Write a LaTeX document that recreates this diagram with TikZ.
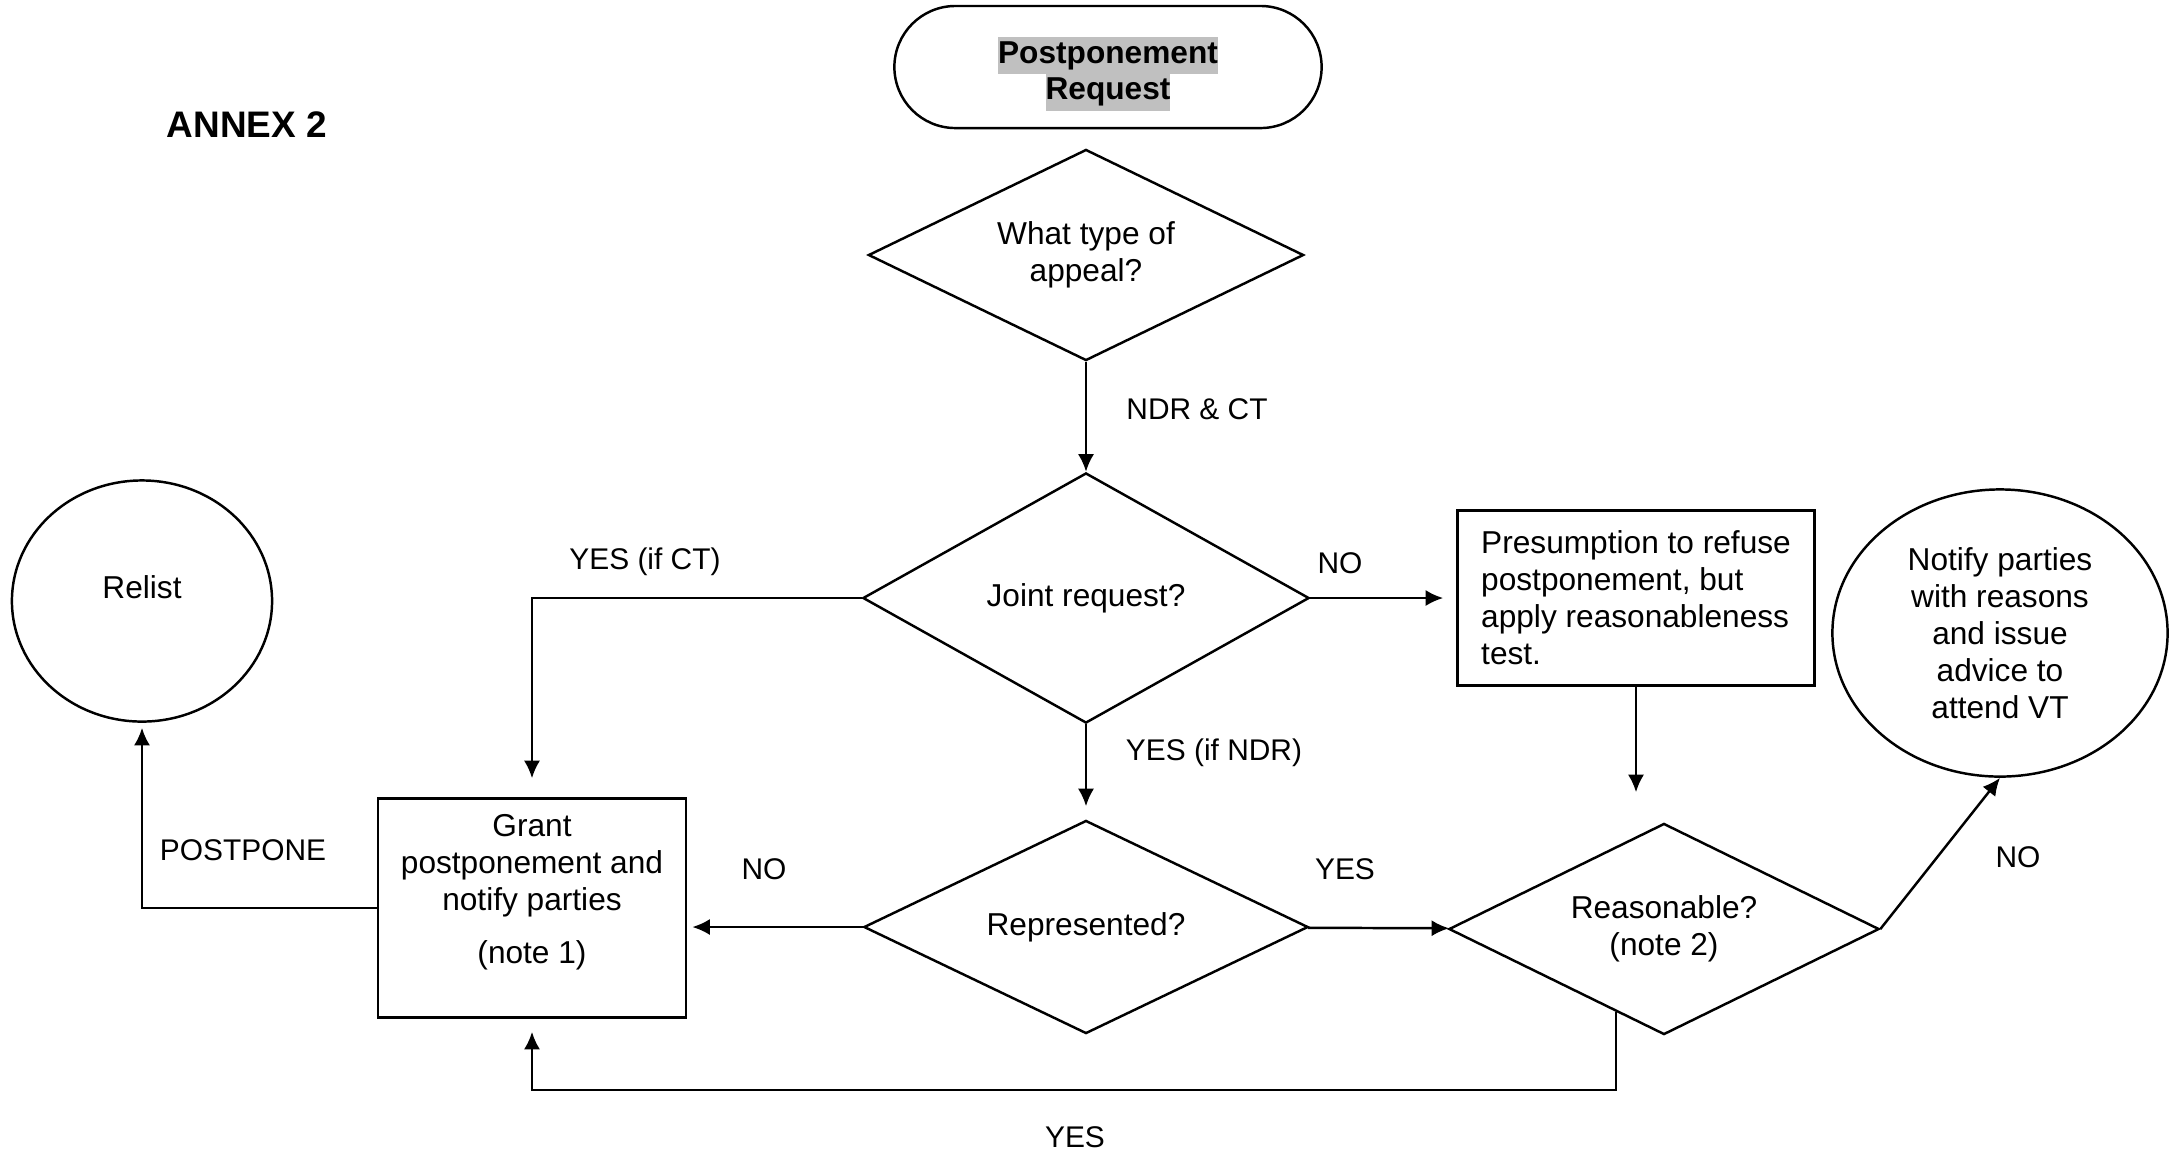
\documentclass[tikz,border=0pt]{standalone}
\usepackage{fontspec}
\setmainfont{Liberation Sans}
\usetikzlibrary{arrows.meta,shapes.geometric}
\definecolor{hl}{HTML}{C0C0C0}
\newcommand{\hilite}[1]{{\setlength{\fboxsep}{0pt}\colorbox{hl}{\strut #1}}}

\begin{document}
\begin{tikzpicture}[x=0.01cm, y=-0.01cm, >={Latex[length=5pt,width=4.6pt]}, line width=0.7pt,
  font=\fontsize{9}{10.5}\selectfont,
  dec/.style={draw, diamond, inner sep=0pt, align=center, minimum width=4.4cm, minimum height=2.12cm},
  box/.style={draw, rectangle, align=center},
  oval/.style={draw, ellipse, inner sep=0pt, align=center},
  lbl/.style={font=\fontsize{8.5}{10}\selectfont}]
\useasboundingbox (0,0) rectangle (2172,1153);
\node[font=\fontsize{10.5}{12}\selectfont\bfseries] (annex) at (247,125) {ANNEX 2};
\node[draw, rounded corners=0.61cm, minimum width=4.27cm, minimum height=1.22cm, align=center,
  font=\fontsize{9}{10.5}\selectfont\bfseries] (req) at (1108,67)
  {\rule{0pt}{0.4cm}\hilite{Postponement}\\\hilite{Request}};
\node[dec, aspect=2.06, minimum width=4.35cm, minimum height=2.11cm] (d1) at (1086,255) {What type of\\appeal?};
\node[dec, aspect=1.78, minimum width=4.46cm, minimum height=2.5cm] (d2) at (1086,598) {Joint request?};
\node[dec, aspect=2.08, minimum width=4.44cm, minimum height=2.13cm] (d3) at (1086,927) {Represented?};
\node[dec, aspect=2.04, minimum width=4.3cm, minimum height=2.11cm] (d4) at (1664,929) {Reasonable?\\(note 2)};
\node[box, minimum width=3.08cm, minimum height=2.19cm] (grant) at (532,908)
  {Grant\\postponement and\\notify parties\\[4.5pt](note 1)\rule[-0.38cm]{0pt}{0.38cm}};
\node[box, align=left, minimum width=3.57cm, minimum height=1.75cm] (pres) at (1636,598)
  {Presumption to refuse\\postponement, but\\apply reasonableness\\test.};
\node[oval, minimum width=2.6cm, minimum height=2.41cm] (relist) at (142,601)
  {Relist\rule[-0.28cm]{0pt}{0.28cm}};
\node[oval, minimum width=3.35cm, minimum height=2.87cm] (notify) at (2000,633)
  {Notify parties\\with reasons\\and issue\\advice to\\attend VT};
\draw[->] (d1) -- (d2);
\draw[->, shorten >=1.9mm] (d2.west) -| (grant.north);
\draw[->, shorten >=1.3mm] (d2.east) -- (pres.west |- d2.east);
\draw[->, shorten >=1.3mm] (d2) -- (d3);
\draw[->, shorten >=0.5mm] (d3.west) -- (grant.east |- d3.west);
\draw[->] (d3) -- (d4);
\draw[->, shorten >=3mm] (pres.south) -- (pres.south |- d4.north);
\draw[->] (d4.east) -- (notify.south);
\draw[->, shorten >=1.3mm] (d4.-120) -- ++(0,78) -| (grant.south);
\draw[->, shorten >=0.5mm] (grant.west) -| (relist.south);
\node[lbl] (ndr) at (1197,409) {NDR \& CT};
\node[lbl] (yct) at (645,562) {YES (if CT)};
\node[lbl] (no1) at (1340,563) {NO};
\node[lbl] (yndr) at (1214,753) {YES (if NDR)};
\node[lbl] (no2) at (764,869) {NO};
\node[lbl] (yes1) at (1345,869) {YES};
\node[lbl] (no3) at (2018,857) {NO};
\node[lbl] (pp) at (243,850) {POSTPONE};
\node[lbl] (yes2) at (1075,1137) {YES};
\end{tikzpicture}
\end{document}
